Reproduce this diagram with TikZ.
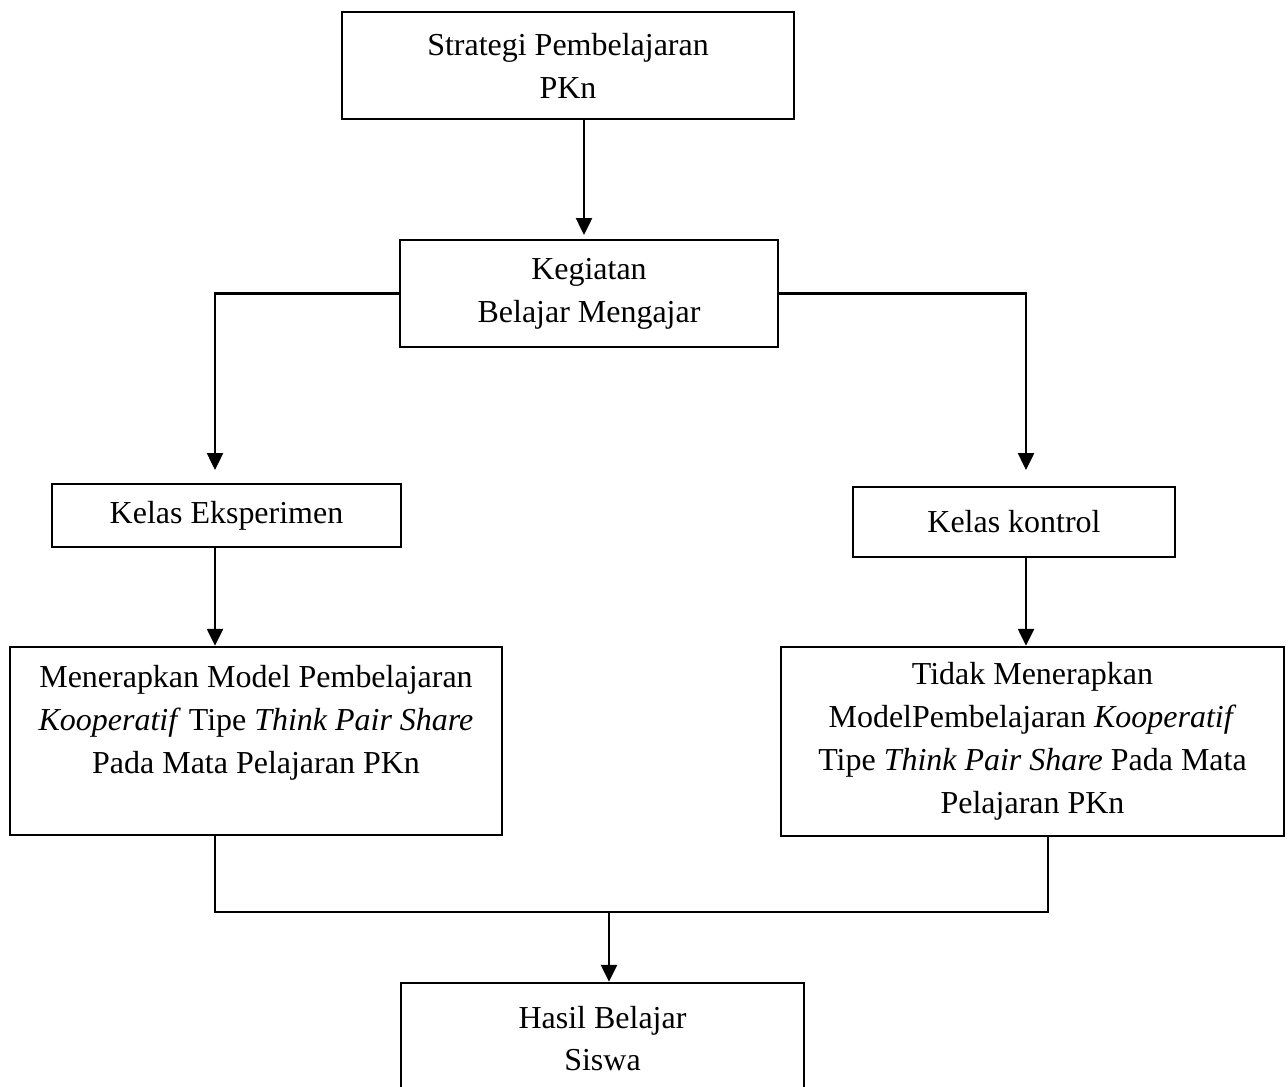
\documentclass[tikz,border=0pt]{standalone}
\usepackage{fontspec}
\setmainfont{Liberation Serif}
\usetikzlibrary{arrows.meta, positioning, calc}

\begin{document}
\begin{tikzpicture}[x=0.02cm, y=-0.02cm,
    kotak/.style={draw, line width=1.4pt, align=center, inner sep=4pt, font=\fontsize{18.2}{24.4}\selectfont},
    panah/.style={-{Triangle[length=0.34cm, width=0.32cm]}, line width=1.4pt},
    garis/.style={line width=1.4pt}]
    \useasboundingbox (0,0) rectangle (1288,1086);

    % Strategi dan KBM
    \node[kotak, minimum width=9.04cm, minimum height=2.14cm] (strategi) at (568,65.5) {Strategi Pembelajaran\\PKn};
    \node[kotak, minimum width=7.56cm, minimum height=2.14cm] (kbm) at (589,293.5) {Kegiatan\\Belajar Mengajar};

    % Kelas
    \node[kotak, minimum width=6.98cm, minimum height=1.26cm] (eksperimen) at (226.5,515.5) {Kelas Eksperimen};
    \node[kotak, minimum width=6.44cm, minimum height=1.40cm] (kontrol) at (1014,522) {Kelas kontrol};

    % Perlakuan
    \node[kotak, minimum width=9.84cm, minimum height=3.76cm] (menerapkan) at (256,741) {Menerapkan Model Pembelajaran\\\textit{Kooperatif} Tipe \textit{Think Pair Share}\\Pada Mata Pelajaran PKn\\\mbox{}};
    \node[kotak, minimum width=10.06cm, minimum height=3.78cm] (tidak) at (1032.5,741.5) {Tidak Menerapkan\\ModelPembelajaran \textit{Kooperatif}\\Tipe \textit{Think Pair Share} Pada Mata\\Pelajaran PKn};

    % Hasil
    \node[kotak, minimum width=8.06cm, minimum height=2.22cm] (hasil) at (602.5,1038.5) {Hasil Belajar\\Siswa};

    % Titik bantu
    \coordinate (atas) at (584,235);
    \coordinate (kiri) at (215,470);
    \coordinate (kanan) at (1026,470);
    \coordinate (gabungKiri) at (215,912);
    \coordinate (gabungKanan) at (1048,912);
    \coordinate (gabungTengah) at (609,912);

    % Panah
    \draw[panah] (strategi.south -| atas) -- (atas);
    \draw[panah] (kbm.west) -| (kiri);
    \draw[panah] (kbm.east) -| (kanan);
    \draw[panah] (eksperimen.south -| kiri) -- (menerapkan.north -| kiri);
    \draw[panah] (kontrol.south -| kanan) -- (tidak.north -| kanan);
    \draw[garis] (menerapkan.south -| gabungKiri) -- (gabungKiri) -- (gabungKanan) -- (tidak.south -| gabungKanan);
    \draw[panah] (gabungTengah) -- (gabungTengah |- hasil.north);
\end{tikzpicture}
\end{document}
